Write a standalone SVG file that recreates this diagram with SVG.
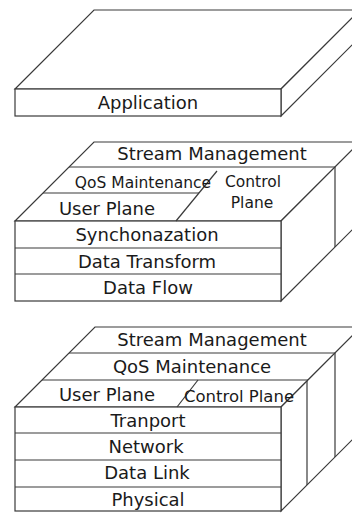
<svg xmlns="http://www.w3.org/2000/svg" width="352" height="513" viewBox="0 0 352 513">
<style>
.f{fill:#fff;stroke:#3a3a3a;stroke-width:1.2;stroke-linejoin:miter}
.l{fill:none;stroke:#3a3a3a;stroke-width:1.2}
text{font-family:"DejaVu Sans","Liberation Sans",sans-serif;fill:#1a1a1a;text-anchor:middle;font-size:18px}
.s{font-size:15.5px}
.m{font-size:16.5px}
</style>
<rect width="352" height="513" fill="#fff"/>
<g id="app">
<polygon class="f" points="15,89 94,10 360,10 281,89"/>
<polygon class="f" points="281,89 360,10 360,37 281,116"/>
<rect class="f" x="15" y="89" width="266" height="27"/>
<text x="148" y="108.5">Application</text>
</g>
<g id="middleware">
<polygon class="f" points="15,221 94,142 360,142 281,221"/>
<polygon class="f" points="281,221 360,142 360,222 281,301"/>
<rect class="f" x="15" y="221" width="266" height="80"/>
<line class="l" x1="15" y1="248" x2="281" y2="248"/>
<line class="l" x1="15" y1="274" x2="281" y2="274"/>
<line class="l" x1="69" y1="167" x2="335" y2="167"/>
<line class="l" x1="43" y1="193" x2="199" y2="193"/>
<line class="l" x1="176" y1="221" x2="217" y2="171"/>
<line class="l" x1="335" y1="167" x2="335" y2="247"/>
<text x="212" y="160">Stream Management</text>
<text class="s" x="143" y="188">QoS Maintenance</text>
<text x="107" y="215">User Plane</text>
<text class="s" x="253" y="187">Control</text>
<text class="s" x="252" y="208">Plane</text>
<text x="147" y="241">Synchonazation</text>
<text x="147" y="268">Data Transform</text>
<text x="148" y="293.5">Data Flow</text>
</g>
<g id="network">
<polygon class="f" points="15,407 95,327 361,327 281,407"/>
<polygon class="f" points="281,407 361,327 361,431 281,511"/>
<rect class="f" x="15" y="407" width="266" height="104"/>
<line class="l" x1="15" y1="433" x2="281" y2="433"/>
<line class="l" x1="15" y1="460" x2="281" y2="460"/>
<line class="l" x1="15" y1="487" x2="281" y2="487"/>
<line class="l" x1="69" y1="353" x2="335" y2="353"/>
<line class="l" x1="42" y1="380" x2="308" y2="380"/>
<line class="l" x1="177" y1="407" x2="198" y2="380"/>
<line class="l" x1="335" y1="353" x2="335" y2="457"/>
<line class="l" x1="307" y1="381" x2="307" y2="485"/>
<text x="212" y="345.5">Stream Management</text>
<text x="192" y="373" font-size="19">QoS Maintenance</text>
<text x="107" y="400.5" font-size="18.5">User Plane</text>
<text class="m" x="239" y="402">Control Plane</text>
<text x="148" y="426.5">Tranport</text>
<text x="146" y="453">Network</text>
<text x="147" y="479">Data Link</text>
<text x="148" y="505.5">Physical</text>
</g>
</svg>
